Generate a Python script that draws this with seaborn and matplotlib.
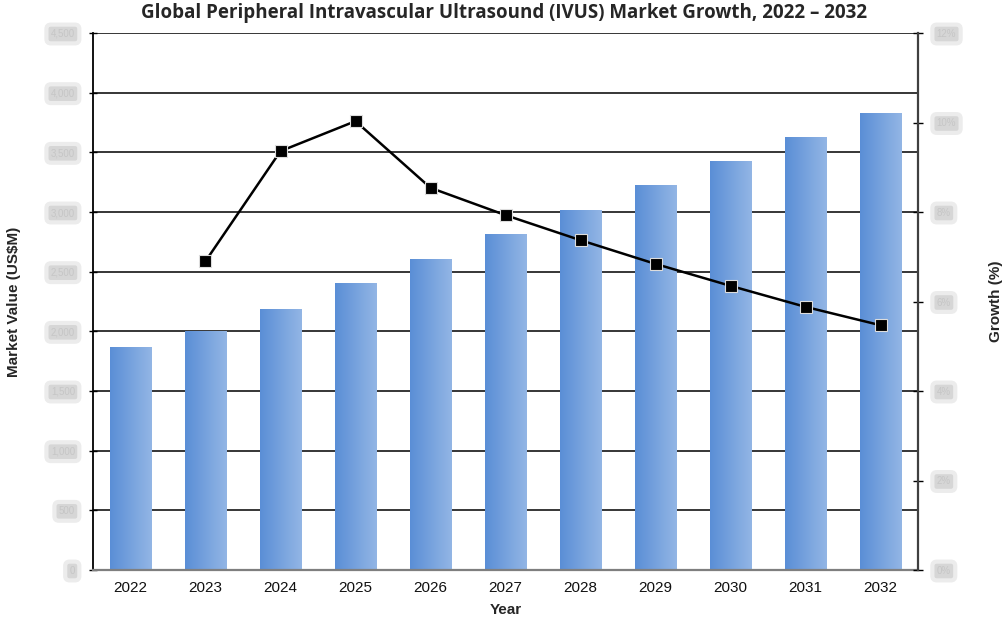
import matplotlib
matplotlib.use("Agg")
import matplotlib.pyplot as plt
import seaborn as sns
import pandas as pd
import numpy as np

years = ["2022", "2023", "2024", "2025", "2026", "2027", "2028", "2029", "2030", "2031", "2032"]
market_value = [1869, 2003, 2187, 2405, 2606, 2816, 3017, 3226, 3427, 3628, 3829]
growth_years = ["2023", "2024", "2025", "2026", "2027", "2028", "2029", "2030", "2031", "2032"]
growth_pct = [6.9, 9.36, 10.03, 8.54, 7.93, 7.37, 6.84, 6.35, 5.88, 5.47]
left_ticks = [0, 500, 1000, 1500, 2000, 2500, 3000, 3500, 4000, 4500]
right_ticks = [0, 2, 4, 6, 8, 10, 12]

sns.set_theme(style="white")
plt.rcParams['font.family'] = ['Liberation Sans', 'DejaVu Sans']

fig = plt.figure(figsize=(10.08, 6.2), dpi=100)
ax = fig.add_axes([93 / 1008, 50 / 620, 825 / 1008, 537 / 620])

df = pd.DataFrame({"Year": years, "Value": market_value})
sns.barplot(data=df, x="Year", y="Value", ax=ax, width=0.55, color="#6f9be0",
            saturation=1, zorder=2)

# horizontal gradient fill on every bar
grad = np.linspace(0, 1, 256).reshape(1, -1)
cmap = matplotlib.colors.LinearSegmentedColormap.from_list("bar", ["#5a8ed6", "#93b6e5"])
for p in ax.patches:
    x0, y0 = p.get_x(), p.get_y()
    w, h = p.get_width(), p.get_height()
    im = ax.imshow(grad, cmap=cmap, aspect="auto", extent=[x0, x0 + w, y0, y0 + h],
                   zorder=2, interpolation="bilinear")
    im.set_clip_path(p)
    p.set_facecolor("none")
    p.set_edgecolor("none")

ax.set_xlim(-0.5, len(years) - 0.5)
ax.set_ylim(0, 4500)
ax.set_yticks(left_ticks)
ax.set_yticklabels([f"{v:,}" for v in left_ticks], color="#c6c6c6", fontsize=7)
for t in ax.get_yticklabels():
    t.set_bbox(dict(boxstyle="round,pad=0.45", fc="#d6d6d6", ec="#ececec", lw=3))
ax.yaxis.grid(True, color="black", linewidth=1.1)
ax.set_axisbelow(True)

# ticks between categories
ax.set_xticks(np.arange(len(years)))
ax.set_xticklabels(years, fontsize=11, color="#111111")
ax.set_xticks(np.arange(len(years) + 1) - 0.5, minor=True)
ax.tick_params(axis="x", which="major", length=0, pad=8)
ax.tick_params(axis="x", which="minor", length=5, width=1, color="black", direction="out")
ax.tick_params(axis="y", which="major", length=6, width=1, color="black", direction="inout", pad=10)

ax.spines["top"].set_visible(False)
ax.spines["left"].set_color("black")
ax.spines["left"].set_linewidth(1.3)
ax.spines["bottom"].set_color("#7f7f7f")
ax.spines["bottom"].set_linewidth(1.6)
ax.spines["right"].set_visible(False)

ax.set_xlabel("Year", fontsize=11, fontweight="bold")
ax.xaxis.set_label_coords(0.5, -0.061)
ax.set_ylabel("Market Value (US$M)", fontsize=11, fontweight="bold")
ax.yaxis.set_label_coords(-0.087, 0.5)

# growth line on secondary axis
ax2 = ax.twinx()
gx = [years.index(y) for y in growth_years]
sns.lineplot(x=gx, y=growth_pct, ax=ax2, color="black", linewidth=1.8, marker="s",
             markersize=8, markerfacecolor="black", markeredgecolor="#dddddd",
             markeredgewidth=0.8, zorder=5)
ax2.set_xlim(-0.5, len(years) - 0.5)
ax2.set_ylim(0, 12)
ax2.set_yticks(right_ticks)
ax2.set_yticklabels([f"{v}%" for v in right_ticks], color="#c6c6c6", fontsize=7)
for t in ax2.get_yticklabels():
    t.set_bbox(dict(boxstyle="round,pad=0.45", fc="#d6d6d6", ec="#ececec", lw=3))
ax2.tick_params(axis="y", length=7, width=1, color="black", direction="inout", pad=10)
ax2.grid(False)
for s in ["top", "left", "bottom"]:
    ax2.spines[s].set_visible(False)
ax2.spines["right"].set_color("#404040")
ax2.spines["right"].set_linewidth(1.6)
ax2.set_ylabel("Growth (%)", fontsize=11, fontweight="bold")
ax2.yaxis.set_label_coords(1.086, 0.5)

fig.suptitle("Global Peripheral Intravascular Ultrasound (IVUS) Market Growth, 2022 \u2013 2032",
             fontsize=13.5, fontweight="bold", family=["Open Sans", "DejaVu Sans"], y=0.995)

fig.savefig("out.png", dpi=100, facecolor="white")
